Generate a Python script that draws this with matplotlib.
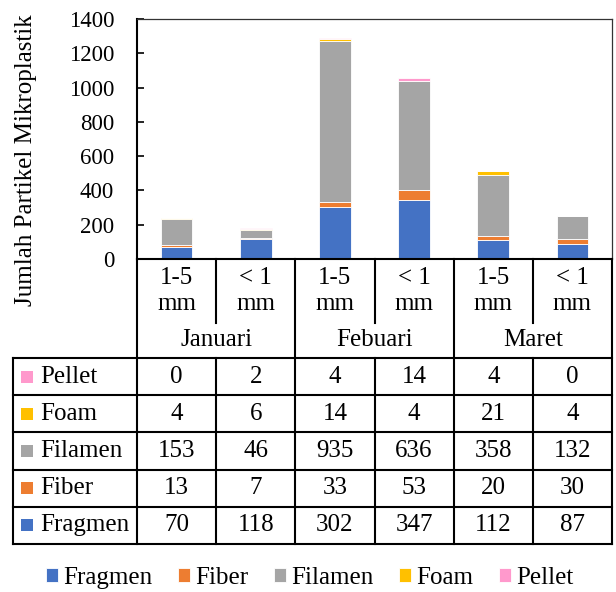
import numpy as np
import matplotlib
matplotlib.use("Agg")
import matplotlib.pyplot as plt
from matplotlib.patches import Rectangle

# ---- data ----
months = ["Januari", "Febuari", "Maret"]
sizes = ["1-5\nmm", "< 1\nmm", "1-5\nmm", "< 1\nmm", "1-5\nmm", "< 1\nmm"]
fragmen = [70, 118, 302, 347, 112, 87]
fiber = [13, 7, 33, 53, 20, 30]
filamen = [153, 46, 935, 636, 358, 132]
foam = [4, 6, 14, 4, 21, 4]
pellet = [0, 2, 4, 14, 4, 0]
series_names = ["Fragmen", "Fiber", "Filamen", "Foam", "Pellet"]
series_vals = [fragmen, fiber, filamen, foam, pellet]
series_cols = ["#4472C4", "#ED7D31", "#A5A5A5", "#FFC000", "#FF99CC"]
yticks = [0, 200, 400, 600, 800, 1000, 1200, 1400]
ylabel = "Jumlah Partikel Mikroplastik"

plt.rcParams["font.family"] = ["Liberation Serif", "DejaVu Serif"]
FS_TICK = 16.5
FS = 18
FS_YL = 18

W, H = 616, 592
fig = plt.figure(figsize=(W / 100, H / 100), dpi=100)


def fx(px):
    return px / W


def fy(py):
    return 1 - py / H


# layout (pixels)
AX_L, AX_R, AX_T, AX_B = 137, 612, 19, 259
TAB_L, TAB_B = 13, 544
HDR1_B, HDR2_B = 323, 358

ax = fig.add_axes([fx(AX_L), fy(AX_B), (AX_R - AX_L) / W, (AX_B - AX_T) / H])
x = np.arange(len(sizes))
bottom = np.zeros(len(sizes))
handles = []
for name, vals, col in zip(series_names, series_vals, series_cols):
    b = ax.bar(x, vals, 0.4, bottom=bottom, color=col, edgecolor="white",
               linewidth=0.6, label=name)
    handles.append(b)
    bottom = bottom + np.array(vals)

ax.set_xlim(-0.5, len(sizes) - 0.5)
ax.set_ylim(0, 1400)
ax.set_yticks(yticks)
ax.set_yticklabels([str(v) for v in yticks])
ax.set_xticks([])
ax.tick_params(axis="y", direction="in", length=5, width=1.2, pad=16.5,
               labelsize=FS_TICK)
for s in ["left", "bottom"]:
    ax.spines[s].set_color("black")
    ax.spines[s].set_linewidth(1.5)
for s in ["top", "right"]:
    ax.spines[s].set_color("#333333")
    ax.spines[s].set_linewidth(0.9)

fig.text(fx(26), fy(160), ylabel, rotation=90, ha="center", va="center",
         fontsize=FS_YL)

# ---- table ----
unit = (AX_R - AX_L) / len(sizes)
xmin = -0.5 - (AX_L - TAB_L) / unit
xmax = len(sizes) - 0.5
tax = fig.add_axes([fx(TAB_L), fy(TAB_B), (AX_R - TAB_L) / W, (TAB_B - AX_B) / H])
tax.set_xlim(xmin, xmax)
tax.set_ylim(TAB_B, AX_B)
tax.axis("off")

LW = 1.5
kw = dict(color="black", lw=LW, clip_on=False, solid_capstyle="projecting")
row_edges = np.linspace(HDR2_B, TAB_B, len(series_names) + 1)

# verticals
for xv in [-0.5, 1.5, 3.5, xmax]:
    tax.plot([xv, xv], [AX_B, TAB_B], **kw)
for xv in [0.5, 2.5, 4.5]:
    tax.plot([xv, xv], [AX_B, HDR1_B], **kw)
    tax.plot([xv, xv], [HDR2_B, TAB_B], **kw)
tax.plot([xmin, xmin], [HDR2_B, TAB_B], **kw)
for yv in row_edges:
    tax.plot([xmin, xmax], [yv, yv], **kw)

# header texts
for i, lab in enumerate(sizes):
    tax.text(i, 291, lab, ha="center", va="center", fontsize=FS,
             linespacing=1.2)
for k, m in enumerate(months):
    tax.text(2 * k + 0.5, 340, m, ha="center", va="center", fontsize=FS)

# rows: top to bottom Pellet, Foam, Filamen, Fiber, Fragmen
order = list(range(len(series_names)))[::-1]
for r, si in enumerate(order):
    yc = (row_edges[r] + row_edges[r + 1]) / 2
    tax.add_patch(Rectangle((xmin + 8 / unit, yc - 6), 12 / unit, 12,
                            color=series_cols[si], lw=0))
    tax.text(xmin + 27 / unit, yc, series_names[si], ha="left", va="center",
             fontsize=FS)
    for i, v in enumerate(series_vals[si]):
        tax.text(i, yc, str(v), ha="center", va="center", fontsize=FS)

# ---- legend ----
fig.legend(handles=handles, labels=series_names, loc="center",
           bbox_to_anchor=(0.503, fy(578)), ncol=5, frameon=False,
           fontsize=FS, handlelength=0.48, handleheight=0.48,
           handletextpad=0.2, columnspacing=1.04, borderaxespad=0,
           borderpad=0)

fig.savefig("out.png", dpi=100)
